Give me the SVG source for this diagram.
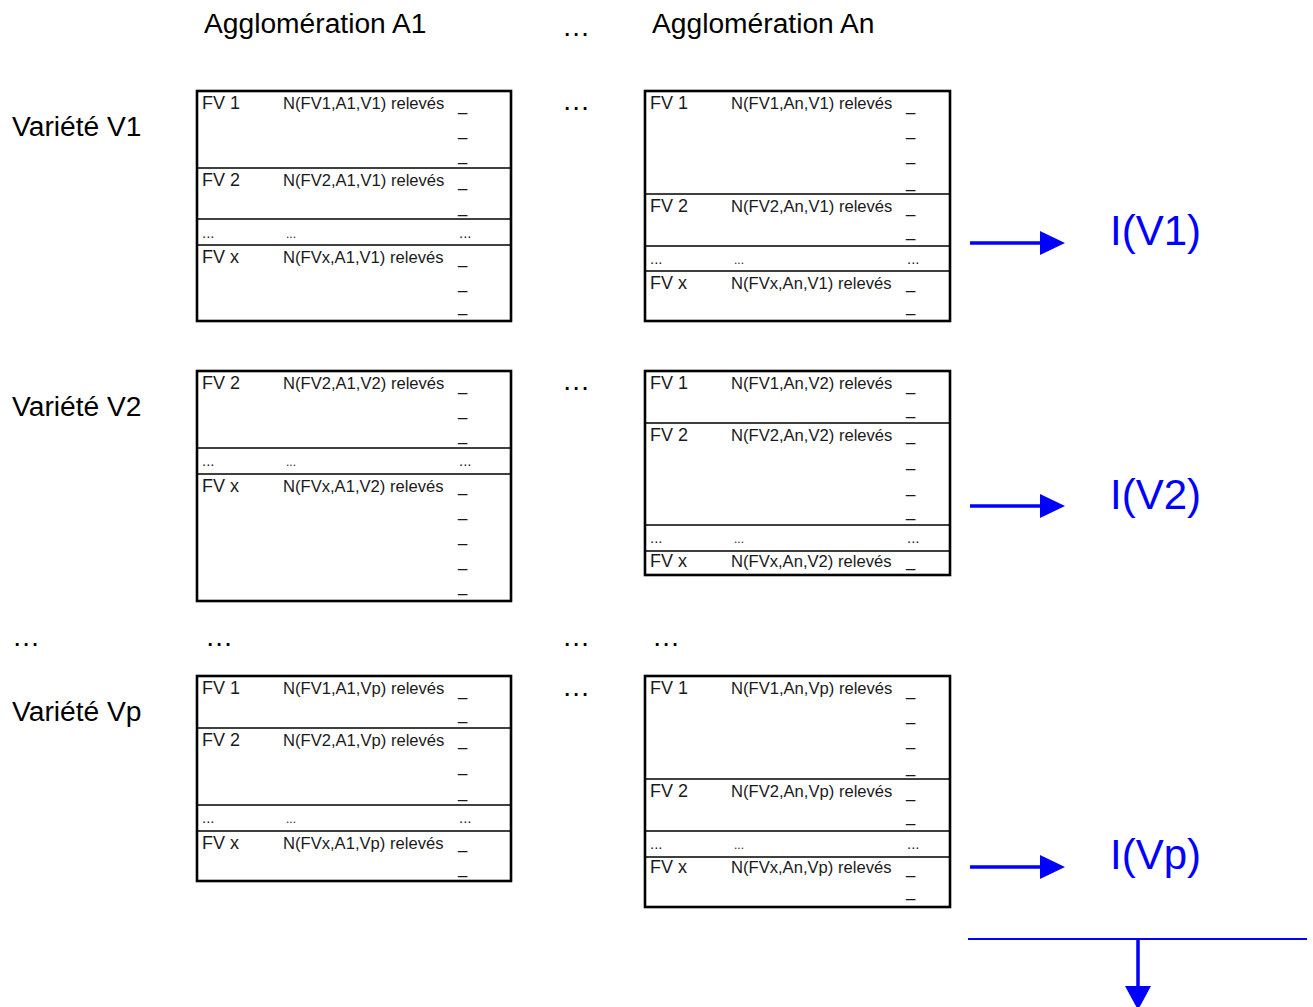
<svg xmlns="http://www.w3.org/2000/svg" width="1313" height="1007" viewBox="0 0 1313 1007">
<style>
.bg{fill:#fff}
.box{fill:#fff;stroke:#000;stroke-width:2.6}
.div{stroke:#000;stroke-width:1.5}
.t{font-family:"Liberation Sans",Arial,sans-serif;font-size:16.6px;fill:#1a1a1a}
.f{font-family:"Liberation Sans",Arial,sans-serif;font-size:18px;fill:#1a1a1a}
.d{font-family:"Liberation Sans",Arial,sans-serif;font-size:15px;fill:#1a1a1a}
.dm{font-family:"Liberation Sans",Arial,sans-serif;font-size:12px;fill:#1a1a1a}
.big{font-family:"Liberation Sans",Arial,sans-serif;font-size:28.2px;fill:#000}
.blue{font-family:"Liberation Sans",Arial,sans-serif;font-size:42px;fill:#0000ff}
.conn{stroke:#0000ff;stroke-width:3.5;fill:none}
.thin{stroke:#0000ff;stroke-width:2;fill:none}
</style>
<defs>
<marker id="ah" markerWidth="25" markerHeight="24" refX="0" refY="12" orient="auto" markerUnits="userSpaceOnUse">
<path d="M0,0 L25,12 L0,24 Z" fill="#0000ff"/>
</marker>
</defs>
<rect class="bg" x="0" y="0" width="1313" height="1007"/>

<g id="labels">
<text class="big" x="204" y="33">Agglomération A1</text>
<text class="big" x="562" y="36">…</text>
<text class="big" x="652" y="33">Agglomération An</text>
<text class="big" x="12" y="136">Variété V1</text>
<text class="big" x="562" y="110">…</text>
<text class="big" x="12" y="416">Variété V2</text>
<text class="big" x="562" y="390">…</text>
<text class="big" x="12" y="646">…</text>
<text class="big" x="205" y="646">…</text>
<text class="big" x="562" y="646">…</text>
<text class="big" x="652" y="646">…</text>
<text class="big" x="12" y="721">Variété Vp</text>
<text class="big" x="562" y="696">…</text>
</g>

<g id="box-A1-V1">
<rect class="box" x="197" y="91" width="314" height="230"/>
<line class="div" x1="197" y1="168" x2="511" y2="168"/>
<line class="div" x1="197" y1="219" x2="511" y2="219"/>
<line class="div" x1="197" y1="245" x2="511" y2="245"/>
<text class="f" x="202" y="109">FV 1</text><text class="t" x="283" y="109">N(FV1,A1,V1) relevés</text>
<text class="t" x="458" y="111">_</text><text class="t" x="458" y="136">_</text><text class="t" x="458" y="161">_</text>
<text class="f" x="202" y="186">FV 2</text><text class="t" x="283" y="186">N(FV2,A1,V1) relevés</text>
<text class="t" x="458" y="187">_</text><text class="t" x="458" y="213">_</text>
<text class="d" x="202" y="238">...</text><text class="dm" x="286" y="238">...</text><text class="d" x="459" y="238">...</text>
<text class="f" x="202" y="263">FV x</text><text class="t" x="283" y="263">N(FVx,A1,V1) relevés</text>
<text class="t" x="458" y="264">_</text><text class="t" x="458" y="289">_</text><text class="t" x="458" y="312">_</text>
</g>

<g id="box-An-V1">
<rect class="box" x="645" y="91" width="305" height="230"/>
<line class="div" x1="645" y1="194" x2="950" y2="194"/>
<line class="div" x1="645" y1="246" x2="950" y2="246"/>
<line class="div" x1="645" y1="271" x2="950" y2="271"/>
<text class="f" x="650" y="109">FV 1</text><text class="t" x="731" y="109">N(FV1,An,V1) relevés</text>
<text class="t" x="906" y="111">_</text><text class="t" x="906" y="136">_</text><text class="t" x="906" y="161">_</text><text class="t" x="906" y="188">_</text>
<text class="f" x="650" y="212">FV 2</text><text class="t" x="731" y="212">N(FV2,An,V1) relevés</text>
<text class="t" x="906" y="213">_</text><text class="t" x="906" y="237">_</text>
<text class="d" x="650" y="264">...</text><text class="dm" x="734" y="264">...</text><text class="d" x="907" y="264">...</text>
<text class="f" x="650" y="289">FV x</text><text class="t" x="731" y="289">N(FVx,An,V1) relevés</text>
<text class="t" x="906" y="289">_</text><text class="t" x="906" y="312">_</text>
</g>

<g id="box-A1-V2">
<rect class="box" x="197" y="371" width="314" height="230"/>
<line class="div" x1="197" y1="448" x2="511" y2="448"/>
<line class="div" x1="197" y1="474" x2="511" y2="474"/>
<text class="f" x="202" y="389">FV 2</text><text class="t" x="283" y="389">N(FV2,A1,V2) relevés</text>
<text class="t" x="458" y="391">_</text><text class="t" x="458" y="416">_</text><text class="t" x="458" y="441">_</text>
<text class="d" x="202" y="466">...</text><text class="dm" x="286" y="466">...</text><text class="d" x="459" y="466">...</text>
<text class="f" x="202" y="492">FV x</text><text class="t" x="283" y="492">N(FVx,A1,V2) relevés</text>
<text class="t" x="458" y="492">_</text><text class="t" x="458" y="517">_</text><text class="t" x="458" y="542">_</text><text class="t" x="458" y="567">_</text><text class="t" x="458" y="592">_</text>
</g>

<g id="box-An-V2">
<rect class="box" x="645" y="371" width="305" height="204"/>
<line class="div" x1="645" y1="423" x2="950" y2="423"/>
<line class="div" x1="645" y1="525" x2="950" y2="525"/>
<line class="div" x1="645" y1="551" x2="950" y2="551"/>
<text class="f" x="650" y="389">FV 1</text><text class="t" x="731" y="389">N(FV1,An,V2) relevés</text>
<text class="t" x="906" y="391">_</text><text class="t" x="906" y="415">_</text>
<text class="f" x="650" y="441">FV 2</text><text class="t" x="731" y="441">N(FV2,An,V2) relevés</text>
<text class="t" x="906" y="441">_</text><text class="t" x="906" y="467">_</text><text class="t" x="906" y="493">_</text><text class="t" x="906" y="517">_</text>
<text class="d" x="650" y="543">...</text><text class="dm" x="734" y="543">...</text><text class="d" x="907" y="543">...</text>
<text class="f" x="650" y="567">FV x</text><text class="t" x="731" y="567">N(FVx,An,V2) relevés</text>
<text class="t" x="906" y="567">_</text>
</g>

<g id="box-A1-Vp">
<rect class="box" x="197" y="676" width="314" height="205"/>
<line class="div" x1="197" y1="728" x2="511" y2="728"/>
<line class="div" x1="197" y1="805" x2="511" y2="805"/>
<line class="div" x1="197" y1="831" x2="511" y2="831"/>
<text class="f" x="202" y="694">FV 1</text><text class="t" x="283" y="694">N(FV1,A1,Vp) relevés</text>
<text class="t" x="458" y="696">_</text><text class="t" x="458" y="720">_</text>
<text class="f" x="202" y="746">FV 2</text><text class="t" x="283" y="746">N(FV2,A1,Vp) relevés</text>
<text class="t" x="458" y="746">_</text><text class="t" x="458" y="772">_</text><text class="t" x="458" y="798">_</text>
<text class="d" x="202" y="823">...</text><text class="dm" x="286" y="823">...</text><text class="d" x="459" y="823">...</text>
<text class="f" x="202" y="849">FV x</text><text class="t" x="283" y="849">N(FVx,A1,Vp) relevés</text>
<text class="t" x="458" y="849">_</text><text class="t" x="458" y="874">_</text>
</g>

<g id="box-An-Vp">
<rect class="box" x="645" y="676" width="305" height="231"/>
<line class="div" x1="645" y1="779" x2="950" y2="779"/>
<line class="div" x1="645" y1="831" x2="950" y2="831"/>
<line class="div" x1="645" y1="857" x2="950" y2="857"/>
<text class="f" x="650" y="694">FV 1</text><text class="t" x="731" y="694">N(FV1,An,Vp) relevés</text>
<text class="t" x="906" y="696">_</text><text class="t" x="906" y="721">_</text><text class="t" x="906" y="746">_</text><text class="t" x="906" y="773">_</text>
<text class="f" x="650" y="797">FV 2</text><text class="t" x="731" y="797">N(FV2,An,Vp) relevés</text>
<text class="t" x="906" y="798">_</text><text class="t" x="906" y="822">_</text>
<text class="d" x="650" y="849">...</text><text class="dm" x="734" y="849">...</text><text class="d" x="907" y="849">...</text>
<text class="f" x="650" y="873">FV x</text><text class="t" x="731" y="873">N(FVx,An,Vp) relevés</text>
<text class="t" x="906" y="874">_</text><text class="t" x="906" y="897">_</text>
</g>

<g id="result-V1"><text class="blue" x="1110" y="245">I(V1)</text></g>
<g id="result-V2"><text class="blue" x="1110" y="509">I(V2)</text></g>
<g id="result-Vp"><text class="blue" x="1110" y="869">I(Vp)</text></g>

<g id="connectors">
<line class="conn" x1="970" y1="243" x2="1040" y2="243" marker-end="url(#ah)"/>
<line class="conn" x1="970" y1="506" x2="1040" y2="506" marker-end="url(#ah)"/>
<line class="conn" x1="970" y1="867" x2="1040" y2="867" marker-end="url(#ah)"/>
<line class="thin" x1="968" y1="939" x2="1307" y2="939"/>
<line class="conn" x1="1138" y1="939" x2="1138" y2="986"/>
<path d="M1125,986 L1151,986 L1138,1010 Z" fill="#0000ff"/>
</g>
</svg>
